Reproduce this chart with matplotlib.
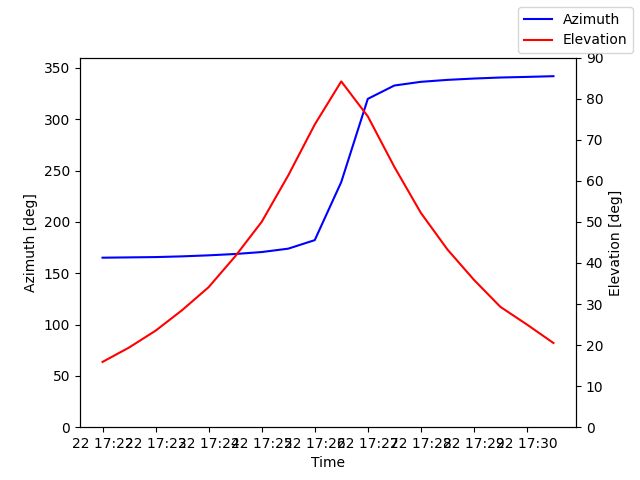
import datetime as dt
import matplotlib
matplotlib.use("Agg")
import matplotlib.pyplot as plt

# pass samples, one every 30 s
start = dt.datetime(2023, 3, 22, 17, 22, 0)
times = [start + dt.timedelta(seconds=30 * i) for i in range(18)]

azimuth = [165.1, 165.4, 165.7, 166.4, 167.4, 168.7, 170.6, 173.9, 182.2,
           238.8, 319.8, 332.8, 336.4, 338.3, 339.6, 340.6, 341.2, 341.9]
elevation = [15.9, 19.4, 23.5, 28.5, 34.1, 41.6, 50.0, 61.3, 73.7,
             84.2, 75.7, 63.4, 52.2, 43.3, 35.9, 29.3, 25.0, 20.5]

fig, ax1 = plt.subplots(figsize=(6.4, 4.8), dpi=100)
ax1.plot(times, azimuth, color='blue', label='Azimuth')
ax1.set_xlabel('Time')
ax1.set_ylabel('Azimuth [deg]')
ax1.set_ylim(0, 360)

ax2 = ax1.twinx()
ax2.plot(times, elevation, color='red', label='Elevation')
ax2.set_ylabel('Elevation [deg]')
ax2.set_ylim(0, 90)

fig.legend()
fig.savefig('out.png')
